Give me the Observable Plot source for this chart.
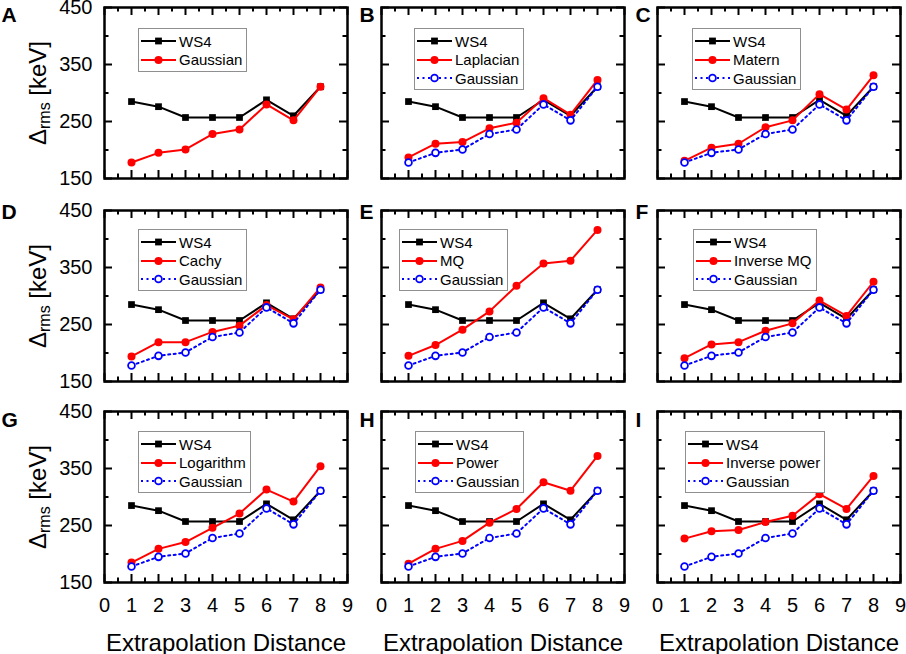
<!DOCTYPE html>
<html>
<head>
<meta charset="utf-8">
<script src="https://cdn.jsdelivr.net/npm/d3@7"></script>
<script src="https://cdn.jsdelivr.net/npm/@observablehq/plot@0.6"></script>
<style>
  body { margin: 0; background: #fff; }
  #fig { position: relative; width: 906px; height: 654px; overflow: hidden; background: #fff;
         font-family: "Liberation Sans", Arial, sans-serif; }
  .panel { position: absolute; }
  .panel svg { max-width: none !important; }
  .legend { position: absolute; border: 1px solid #8f8f8f; background: #fff;
            padding: 2.75px 4px 1.75px 0; font-size: 15px; color: #000; white-space: nowrap; }
  .legend .row { display: flex; align-items: center; height: 18.5px; }
  .legend svg { margin-left: 1px; display: block; }
  .legend span { margin-left: 2px; }
</style>
</head>
<body>
<div id="fig"></div>
<script>
// ---------------- data ----------------
const distances = [1, 2, 3, 4, 5, 6, 7, 8];
const ws4 = [285, 276, 257, 257, 257, 288, 260, 311];
const gaussian = [178, 195, 201, 228, 236, 280, 252, 311];
const laplacian = [187, 211, 214, 238, 248, 291, 262, 323];
const matern = [181, 204, 211, 240, 252, 298, 271, 331];
const cachy = [194, 219, 219, 237, 248, 284, 259, 315];
const mq = [195, 214, 241, 273, 318, 357, 362, 416];
const inverseMQ = [191, 215, 219, 239, 252, 292, 265, 325];
const logarithm = [185, 209, 221, 246, 271, 313, 292, 354];
const power = [183, 209, 223, 255, 279, 326, 311, 372];
const inversePower = [227, 240, 242, 256, 267, 305, 279, 337];

const panelLetters = ["A", "B", "C", "D", "E", "F", "G", "H", "I"];
const methodNames = ["Gaussian", "Laplacian", "Matern", "Cachy", "MQ", "Inverse MQ", "Logarithm", "Power", "Inverse power"];
const methodValues = [gaussian, laplacian, matern, cachy, mq, inverseMQ, logarithm, power, inversePower];

const xTickLabels = [0, 1, 2, 3, 4, 5, 6, 7, 8, 9];
const xMinorTicks = [0.5, 1.5, 2.5, 3.5, 4.5, 5.5, 6.5, 7.5, 8.5];
const yTickLabels = [150, 250, 350, 450];
const yMinorTicks = [200, 300, 400];

const xTitle = "Extrapolation Distance";
const yTitle = "Δrms [keV]";

// ---------------- layout ----------------
const W = 243, H = 171;
const colLeft = [104, 381, 657];
const rowTop = [7, 210, 411];
const letterDy = [14, 8, 15];
const legendOffset = [[34, 21], [33, 21], [35, 21], [34, 19], [18, 19], [36, 19], [34, 20], [34, 20], [28, 20]];

const FONT = "Liberation Sans, Arial, sans-serif";
const fig = document.getElementById("fig");

const series = (vals) => distances.map((x, i) => ({x, y: vals[i]}));

function swatch(kind) {
  const svg = d3.create("svg").attr("width", 37).attr("height", 12);
  if (kind === "ws4") {
    svg.append("line").attr("x1", 1).attr("x2", 36).attr("y1", 6).attr("y2", 6).attr("stroke", "#000").attr("stroke-width", 2);
    svg.append("rect").attr("x", 18.5 - 3.4).attr("y", 6 - 3.4).attr("width", 6.8).attr("height", 6.8).attr("fill", "#000");
  } else if (kind === "red") {
    svg.append("line").attr("x1", 1).attr("x2", 36).attr("y1", 6).attr("y2", 6).attr("stroke", "#ff0000").attr("stroke-width", 2);
    svg.append("circle").attr("cx", 18.5).attr("cy", 6).attr("r", 4).attr("fill", "#ff0000");
  } else {
    svg.append("line").attr("x1", 1).attr("x2", 36).attr("y1", 6).attr("y2", 6).attr("stroke", "#0000ff").attr("stroke-width", 2).attr("stroke-dasharray", "2,3.5");
    svg.append("circle").attr("cx", 18.5).attr("cy", 6).attr("r", 3.4).attr("fill", "#fff").attr("stroke", "#0000ff").attr("stroke-width", 1.8);
  }
  return svg.node();
}

panelLetters.forEach((letter, i) => {
  const c = i % 3, r = Math.floor(i / 3);
  const mL = c === 0 ? 104 : 24, mT = 24, mR = 10, mB = r === 2 ? 74 : 10;
  const isA = i === 0;
  const method = series(methodValues[i]);
  const gauss = series(gaussian);
  const ws = series(ws4);

  const marks = [
    Plot.frame({stroke: "#000", strokeWidth: 2.5}),
    // inward ticks, bottom / top
    Plot.ruleX(xTickLabels, {x: d => d, insetTop: H - 8, stroke: "#000", strokeWidth: 2}),
    Plot.ruleX(xMinorTicks, {x: d => d, insetTop: H - 4.5, stroke: "#000", strokeWidth: 2}),
    Plot.ruleX(xTickLabels, {x: d => d, insetBottom: H - 8, stroke: "#000", strokeWidth: 2}),
    Plot.ruleX(xMinorTicks, {x: d => d, insetBottom: H - 4.5, stroke: "#000", strokeWidth: 2}),
    // inward ticks, left / right
    Plot.ruleY(yTickLabels, {y: d => d, insetRight: W - 8, stroke: "#000", strokeWidth: 2}),
    Plot.ruleY(yMinorTicks, {y: d => d, insetRight: W - 4.5, stroke: "#000", strokeWidth: 2}),
    Plot.ruleY(yTickLabels, {y: d => d, insetLeft: W - 8, stroke: "#000", strokeWidth: 2}),
    Plot.ruleY(yMinorTicks, {y: d => d, insetLeft: W - 4.5, stroke: "#000", strokeWidth: 2}),
    // WS4
    Plot.line(ws, {x: "x", y: "y", stroke: "#000", strokeWidth: 2}),
    Plot.dot(ws, {x: "x", y: "y", symbol: "square", r: 3.8, fill: "#000"}),
    // method (red)
    Plot.line(method, {x: "x", y: "y", stroke: "#ff0000", strokeWidth: 2}),
    Plot.dot(method, {x: "x", y: "y", r: 4, fill: "#ff0000"}),
  ];
  if (!isA) {
    marks.push(
      Plot.line(gauss, {x: "x", y: "y", stroke: "#0000ff", strokeWidth: 2, strokeDasharray: "2,3.5"}),
      Plot.dot(gauss, {x: "x", y: "y", r: 3.4, fill: "#fff", stroke: "#0000ff", strokeWidth: 1.8})
    );
  }
  marks.push(Plot.text([letter], {frameAnchor: "top-left", dx: c === 0 ? -103 : -22, dy: letterDy[r],
    textAnchor: "start", lineAnchor: "bottom", fontWeight: "bold", fontSize: 21, fill: "#000"}));
  if (c === 0) {
    marks.push(Plot.axisY({ticks: yTickLabels, tickSize: 0, tickPadding: 12, label: null, fontSize: 20, tickFormat: d => String(d)}));
    marks.push(Plot.text([yTitle], {frameAnchor: "left", dx: -59, rotate: -90, textAnchor: "middle",
      lineAnchor: "bottom", fontSize: 24, fill: "#000"}));
  }
  if (r === 2) {
    marks.push(Plot.axisX({ticks: xTickLabels, tickSize: 0, tickPadding: 15, label: null, fontSize: 20, tickFormat: d => String(d)}));
    marks.push(Plot.text([xTitle], {frameAnchor: "bottom", dy: 68, lineAnchor: "bottom", fontSize: 24, fill: "#000"}));
  }

  const width = mL + W + mR, height = mT + H + mB;
  const plot = Plot.plot({
    width, height,
    marginLeft: mL, marginTop: mT, marginRight: mR, marginBottom: mB,
    x: r === 2 ? {domain: [0, 9]} : {domain: [0, 9], axis: null},
    y: c === 0 ? {domain: [150, 450]} : {domain: [150, 450], axis: null},
    style: {background: "transparent", overflow: "visible", fontFamily: FONT, fontSize: "20px", color: "#000", maxWidth: "none"},
    marks
  });

  // subscript in the y title
  d3.select(plot).selectAll("text").filter(function () { return this.textContent === yTitle; }).each(function () {
    const t = d3.select(this);
    t.text(null);
    t.append("tspan").text("Δ");
    t.append("tspan").attr("font-size", 16).attr("dy", 4).text("rms");
    t.append("tspan").attr("dy", -4).text(" [keV]");
  });

  const wrap = document.createElement("div");
  wrap.className = "panel";
  wrap.style.left = (colLeft[c] - mL) + "px";
  wrap.style.top = (rowTop[r] - mT) + "px";
  wrap.style.width = width + "px";
  wrap.style.height = height + "px";
  wrap.appendChild(plot);
  fig.appendChild(wrap);

  // legend
  const lg = document.createElement("div");
  lg.className = "legend";
  lg.style.left = (colLeft[c] + legendOffset[i][0]) + "px";
  lg.style.top = (rowTop[r] + legendOffset[i][1]) + "px";
  const entries = isA ? [["ws4", "WS4"], ["red", methodNames[0]]]
                      : [["ws4", "WS4"], ["red", methodNames[i]], ["blue", methodNames[0]]];
  entries.forEach(([kind, label]) => {
    const row = document.createElement("div");
    row.className = "row";
    row.appendChild(swatch(kind));
    const s = document.createElement("span");
    s.textContent = label;
    row.appendChild(s);
    lg.appendChild(row);
  });
  fig.appendChild(lg);
});
</script>
</body>
</html>
